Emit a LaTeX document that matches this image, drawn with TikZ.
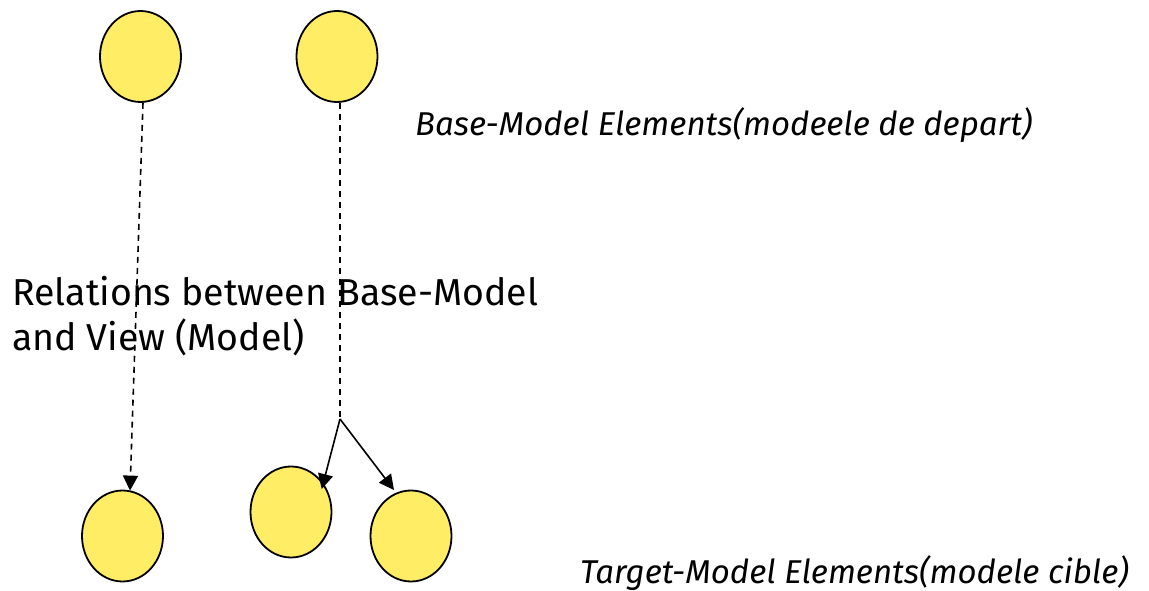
\documentclass[tikz,border=0pt]{standalone}
\usepackage{fontspec}
\setmainfont{Fira Sans}
\usetikzlibrary{shapes.geometric,arrows.meta}
\definecolor{elemfill}{RGB}{255,237,102}
\tikzset{
  elem/.style={ellipse, draw=black, line width=1.8pt, fill=elemfill, minimum width=81pt, minimum height=91pt, inner sep=0pt},
  rel/.style={line width=1.6pt, dash pattern=on 6pt off 5pt},
  tip/.style={-{Triangle[length=15pt,width=15pt]}},
  branch/.style={line width=1.6pt},
  lbl/.style={inner sep=0pt, font=\fontsize{37.5}{45}\selectfont},
  ilbl/.style={inner sep=0pt, font=\fontsize{33}{38}\selectfont\itshape}
}
\begin{document}
\begin{tikzpicture}[x=1pt,y=-1pt]
\useasboundingbox (0,0) rectangle (1149,591);
\node[elem] (tl) at (140.5,56.5) {};
\node[elem] (tr) at (337,56.5) {};
\node[elem] (bl) at (122.5,536) {};
\node[elem] (bm) at (291,512) {};
\node[elem] (br) at (411,536) {};
\coordinate (fork) at (340,419);
\node[ilbl, anchor=base west] (base) at (415,136) {Base-Model Elements(modeele de depart)};
\node[ilbl, anchor=base west] (target) at (580,583) {Target-Model Elements(modele cible)};
\node[lbl, anchor=base west, align=left] (relations) at (12,350) {Relations between Base-Model\\and View (Model)};
\draw[rel, tip] ([xshift=2.5pt]tl.south) -- ([xshift=7.5pt,yshift=-1pt]bl.north);
\draw[rel] ([xshift=3pt]tr.south) -- (fork);
\draw[branch, tip] (fork) -- ([xshift=30.7pt,yshift=23pt]bm.center);
\draw[branch, tip] (fork) -- ([xshift=-17pt,yshift=46pt]br.center);
\end{tikzpicture}
\end{document}
